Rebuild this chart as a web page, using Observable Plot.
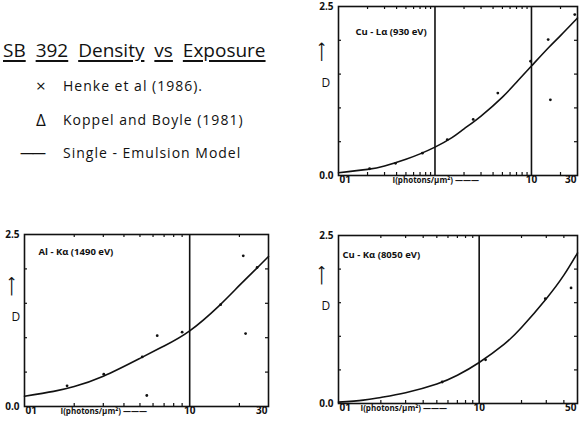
<!DOCTYPE html>
<html>
<head>
<meta charset="utf-8">
<script src="https://cdn.jsdelivr.net/npm/d3@7"></script>
<script src="https://cdn.jsdelivr.net/npm/@observablehq/plot@0.6"></script>
<style>
  body { margin: 0; background: #fff; }
  #page { position: relative; width: 584px; height: 424px; overflow: hidden; font-family: "Open Sans", sans-serif; color: #111; }
  .panel { position: absolute; }
  #key { position: absolute; left: 0; top: 0; }
  #key .title { position: absolute; left: 3px; top: 37px; font-size: 19px; letter-spacing: 0px; word-spacing: 5px; white-space: nowrap; }
  #key .title u { text-decoration-thickness: 1.5px; text-underline-offset: 3px; }
  #key .row { position: absolute; font-size: 14px; letter-spacing: 1px; white-space: nowrap; }
  #key .sym { position: absolute; left: 36px; font-size: 17px; top: -2px; }
  #key .lbl { position: absolute; left: 63px; }
</style>
</head>
<body>
<div id="page">
  <div id="key"></div>
</div>
<script>
// Y axis: optical density D
const densityTicks = [0.5, 1.0, 1.5, 2.0];

// Cu-Lα (930 eV): model curve and measured points
const cuLaName = "Cu - Lα (930 eV)";
const cuLaCurveI = [0.1, 0.2, 0.3, 0.5, 0.7, 1, 1.5, 2, 3, 5, 7, 10, 15, 20, 30];
const cuLaCurveD = [0.04, 0.09, 0.14, 0.24, 0.32, 0.42, 0.56, 0.69, 0.88, 1.16, 1.38, 1.62, 1.89, 2.07, 2.33];
const cuLaPointI = [0.21, 0.39, 0.74, 1.34, 2.49, 4.48, 9.8, 14.9, 28.1, 15.7];
const cuLaPointD = [0.10, 0.18, 0.33, 0.53, 0.83, 1.22, 1.69, 2.01, 2.38, 1.12];
const cuLaRefLines = [1, 10];
const cuLaMinor = [0.2, 0.3, 0.4, 0.5, 0.6, 0.7, 0.8, 0.9, 2, 3, 4, 5, 6, 7, 8, 9, 20];
const cuLaTickValues = [0.1, 10, 30];
const cuLaTickLabels = ["01", "10", "30"];

// Al-Kα (1490 eV)
const alKaName = "Al - Kα (1490 eV)";
const alKaCurveI = [1, 1.5, 2, 3, 5, 7, 10, 15, 20, 25, 30];
const alKaCurveD = [0.15, 0.22, 0.29, 0.44, 0.70, 0.88, 1.10, 1.46, 1.76, 1.99, 2.18];
const alKaPointI = [1.81, 3.02, 5.16, 6.36, 9.0, 15.4, 21.1, 21.8, 25.6, 5.5];
const alKaPointD = [0.30, 0.47, 0.72, 1.03, 1.08, 1.48, 2.19, 1.06, 2.02, 0.16];
const alKaRefLines = [10];
const alKaMinor = [2, 3, 4, 5, 6, 7, 8, 9, 20];
const alKaTickValues = [1, 10, 30];
const alKaTickLabels = ["01", "10", "30"];

// Cu-Kα (8050 eV)
const cuKaName = "Cu - Kα (8050 eV)";
const cuKaCurveI = [1, 1.5, 2, 3, 5, 7, 10, 15, 20, 30, 40, 50];
const cuKaCurveD = [0.02, 0.05, 0.09, 0.16, 0.29, 0.42, 0.61, 0.88, 1.13, 1.56, 1.91, 2.24];
const cuKaPointI = [5.46, 11.1, 29.5, 45];
const cuKaPointD = [0.32, 0.65, 1.56, 1.72];
const cuKaRefLines = [10];
const cuKaMinor = [2, 3, 4, 5, 6, 7, 8, 9, 20, 30, 40];
const cuKaTickValues = [1, 10, 50];
const cuKaTickLabels = ["01", "10", "50"];

// Key text
const keyTitleWords = ["SB", "392", "Density", "vs", "Exposure"];
const keyRows = [
  { sym: "×", label: "Henke et al (1986)." },
  { sym: "Δ", label: "Koppel and Boyle (1981)" },
  { sym: "——", label: "Single - Emulsion Model" }
];

const xAxisLabel = "I(photons/μm²) ———";
const font = "'Open Sans', 'DejaVu Sans', sans-serif";

function panel(cfg) {
  const fw = cfg.width - cfg.marginLeft - cfg.marginRight;
  const fh = cfg.height - cfg.marginTop - cfg.marginBottom;
  const curve = cfg.curveI.map((i, k) => ({ i, d: cfg.curveD[k] }));
  const points = cfg.pointI.map((i, k) => ({ i, d: cfg.pointD[k] }));
  const fmt = v => cfg.tickLabels[cfg.tickValues.indexOf(v)];
  const tv = cfg.tickValues;
  return Plot.plot({
    width: cfg.width,
    height: cfg.height,
    marginLeft: cfg.marginLeft,
    marginRight: cfg.marginRight,
    marginTop: cfg.marginTop,
    marginBottom: cfg.marginBottom,
    x: { type: "log", domain: cfg.domain, axis: null },
    y: { domain: [0, 2.5] },
    style: { fontFamily: font, fontSize: "10px", color: "#111", background: "transparent", overflow: "visible" },
    marks: [
      Plot.frame({ stroke: "#111", strokeWidth: 1.6 }),
      Plot.tickX(cfg.minor, { x: d => d, insetTop: fh - 3, stroke: "#111", strokeWidth: 1.2 }),
      Plot.tickX(cfg.minor, { x: d => d, insetBottom: fh - 3, stroke: "#111", strokeWidth: 1.2 }),
      Plot.tickY(densityTicks, { y: d => d, insetRight: fw - 3, stroke: "#111", strokeWidth: 1.2 }),
      Plot.tickY(densityTicks, { y: d => d, insetLeft: fw - 3, stroke: "#111", strokeWidth: 1.2 }),
      Plot.ruleX(cfg.refLines, { x: d => d, stroke: "#111", strokeWidth: 1.6 }),
      Plot.line(curve, { x: "i", y: "d", curve: "natural", stroke: "#111", strokeWidth: 1.6 }),
      Plot.dot(points, { x: "i", y: "d", r: 1.4, fill: "#111", stroke: null }),
      Plot.axisY({ ticks: [0, 2.5], tickSize: 0, tickPadding: 5, tickFormat: d => d.toFixed(1), label: null, fontWeight: "bold", fontSize: 10 }),
      Plot.text([tv[0]], { x: d => d, text: fmt, frameAnchor: "bottom", dy: 7, textAnchor: "start", dx: 1, fontWeight: "bold", fontSize: 10 }),
      Plot.text([tv[1]], { x: d => d, text: fmt, frameAnchor: "bottom", dy: 7, fontWeight: "bold", fontSize: 10 }),
      Plot.text([tv[2]], { x: d => d, text: fmt, frameAnchor: "bottom", dy: 7, textAnchor: "end", dx: -1, fontWeight: "bold", fontSize: 10 }),
      Plot.text([xAxisLabel], { text: d => d, frameAnchor: "bottom-left", dx: cfg.labelDx, dy: 7, textAnchor: "start", fontWeight: "bold", fontSize: 8 }),
      Plot.text([cfg.name], { text: d => d, frameAnchor: "top-left", dx: cfg.nameDx, dy: cfg.nameDy, textAnchor: "start", fontWeight: "bold", fontSize: 9.5 }),
      Plot.text(["D"], { text: d => d, frameAnchor: "left", dx: cfg.dDx, dy: cfg.dDy, fontSize: 12 }),
      Plot.text(["⟶"], { text: d => d, frameAnchor: "left", dx: cfg.dDx, dy: cfg.dDy - 21, rotate: -90, fontSize: 14 })
    ]
  });
}

const page = document.getElementById("page");

function place(svg, left, top) {
  svg.classList.add("panel");
  svg.style.left = left + "px";
  svg.style.top = top + "px";
  page.appendChild(svg);
}

place(panel({
  name: cuLaName, domain: [0.1, 30],
  curveI: cuLaCurveI, curveD: cuLaCurveD, pointI: cuLaPointI, pointD: cuLaPointD,
  refLines: cuLaRefLines, minor: cuLaMinor, tickValues: cuLaTickValues, tickLabels: cuLaTickLabels,
  width: 294, height: 200, marginLeft: 48, marginRight: 7, marginTop: 6, marginBottom: 25,
  labelDx: 54, nameDx: 17, nameDy: 22, dDx: -17, dDy: -8
}), 290, 0);

place(panel({
  name: alKaName, domain: [1, 30],
  curveI: alKaCurveI, curveD: alKaCurveD, pointI: alKaPointI, pointD: alKaPointD,
  refLines: alKaRefLines, minor: alKaMinor, tickValues: alKaTickValues, tickLabels: alKaTickLabels,
  width: 290, height: 219, marginLeft: 24, marginRight: 22, marginTop: 29, marginBottom: 18,
  labelDx: 36, nameDx: 14, nameDy: 14, dDx: -13, dDy: -3
}), 0, 205);

place(panel({
  name: cuKaName, domain: [1, 50],
  curveI: cuKaCurveI, curveD: cuKaCurveD, pointI: cuKaPointI, pointD: cuKaPointD,
  refLines: cuKaRefLines, minor: cuKaMinor, tickValues: cuKaTickValues, tickLabels: cuKaTickLabels,
  width: 294, height: 219, marginLeft: 48, marginRight: 7, marginTop: 30, marginBottom: 21,
  labelDx: 22, nameDx: 4, nameDy: 16, dDx: -17, dDy: -13
}), 290, 205);

// Key block at upper left
const key = document.getElementById("key");
const title = document.createElement("div");
title.className = "title";
title.innerHTML = keyTitleWords.map(w => `<u>${w}</u>`).join(" ");
key.appendChild(title);
const rowTops = [76, 110, 143];
keyRows.forEach((r, k) => {
  const row = document.createElement("div");
  row.className = "row";
  row.style.top = rowTops[k] + "px";
  const s = document.createElement("span");
  s.className = "sym";
  s.textContent = r.sym;
  if (k === 2) { s.style.left = "20px"; s.style.letterSpacing = "-2px"; s.style.fontSize = "14px"; s.style.top = "0px"; }
  const l = document.createElement("span");
  l.className = "lbl";
  l.textContent = r.label;
  row.appendChild(s);
  row.appendChild(l);
  key.appendChild(row);
});
</script>
</body>
</html>
